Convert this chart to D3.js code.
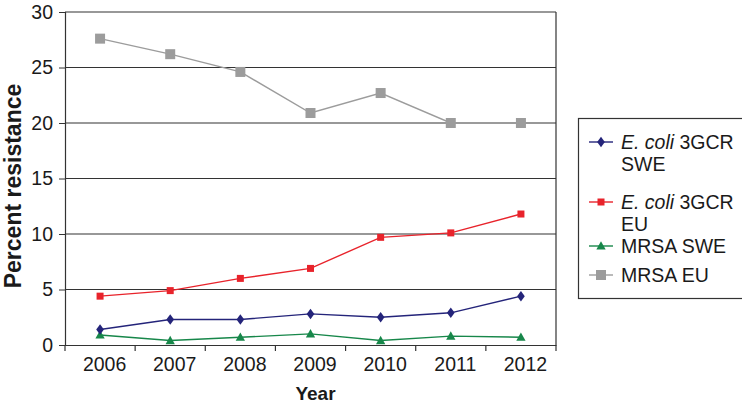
<!DOCTYPE html>
<html><head><meta charset="utf-8">
<script src="https://cdn.jsdelivr.net/npm/d3@7"></script>
<style>body{margin:0;background:#fff}svg{display:block;font-family:"Liberation Sans",Arial,sans-serif}</style>
</head><body><svg id="c" width="742" height="405"></svg>
<script>
const years = ["2006","2007","2008","2009","2010","2011","2012"];
const ecoliSWE = [1.4, 2.3, 2.3, 2.8, 2.5, 2.9, 4.4];
const ecoliEU = [4.4, 4.9, 6.0, 6.9, 9.7, 10.1, 11.8];
const mrsaSWE = [0.9, 0.4, 0.7, 1.0, 0.4, 0.8, 0.7];
const mrsaEU = [27.6, 26.2, 24.6, 20.9, 22.7, 20.0, 20.0];
const yTicks = [0, 5, 10, 15, 20, 25, 30];

const series = [
  {name:["E. coli", " 3GCR", "SWE"], values: ecoliSWE, color:"#24247a", marker:"diamond", size:7},
  {name:["E. coli", " 3GCR", "EU"], values: ecoliEU, color:"#e8232b", marker:"square", size:7},
  {name:["", "MRSA SWE", null], values: mrsaSWE, color:"#17874a", marker:"triangle", size:8},
  {name:["", "MRSA EU", null], values: mrsaEU, color:"#9c9c9c", marker:"square", size:10}
];

const svg = d3.select("#c");
const L = 65, R = 556, T = 12, B = 345;
const x = d3.scaleBand().domain(years).range([L, R]);
const y = d3.scaleLinear().domain([0, 30]).range([B, T]);

// gridlines
svg.append("g").selectAll("line").data(yTicks.filter(d => d > 0)).join("line")
  .attr("x1", L).attr("x2", R).attr("y1", d => y(d)).attr("y2", d => y(d))
  .attr("stroke", "#333").attr("stroke-width", 1.2);
// right border
svg.append("line").attr("x1", R).attr("x2", R).attr("y1", T).attr("y2", B)
  .attr("stroke", "#333").attr("stroke-width", 1.2);

// y axis
const yAxis = svg.append("g").attr("transform", `translate(${L},0)`)
  .call(d3.axisLeft(y).tickValues(yTicks).tickSize(6).tickPadding(6));
yAxis.select(".domain").attr("stroke", "#333").attr("stroke-width", 1.2);
yAxis.selectAll(".tick line").attr("stroke", "#333");
yAxis.selectAll("text").attr("font-size", 19.5).attr("fill", "#1a1a1a").attr("font-family", "Liberation Sans, Arial, sans-serif");

// x axis
const xAxis = svg.append("g").attr("transform", `translate(0,${B})`)
  .call(d3.axisBottom(x).tickSize(0).tickPadding(12));
xAxis.select(".domain").attr("stroke", "#333").attr("stroke-width", 1.2);
xAxis.selectAll("text").attr("font-size", 19.5).attr("dx", 4.5).attr("fill", "#1a1a1a").attr("font-family", "Liberation Sans, Arial, sans-serif");
// x tick marks at band boundaries
svg.append("g").selectAll("line").data(d3.range(years.length + 1)).join("line")
  .attr("x1", i => L + i * x.bandwidth()).attr("x2", i => L + i * x.bandwidth())
  .attr("y1", B).attr("y2", B + 6).attr("stroke", "#333").attr("stroke-width", 1.2);

// axis titles
svg.append("text").attr("x", (L + R) / 2 + 5).attr("y", 400).attr("text-anchor", "middle")
  .attr("font-size", 19).attr("font-weight", "bold").attr("fill", "#1a1a1a").text("Year");
svg.append("text").attr("transform", `translate(21,186) rotate(-90)`).attr("text-anchor", "middle")
  .attr("font-size", 23).attr("font-weight", "bold").attr("fill", "#1a1a1a").text("Percent resistance");

function drawMarker(g, type, cx, cy, s, color) {
  if (type === "diamond") {
    g.append("path").attr("d", `M${cx},${cy - s * 0.75}L${cx + s * 0.55},${cy}L${cx},${cy + s * 0.75}L${cx - s * 0.55},${cy}Z`).attr("fill", color);
  } else if (type === "square") {
    g.append("rect").attr("x", cx - s / 2).attr("y", cy - s / 2).attr("width", s).attr("height", s).attr("fill", color);
  } else {
    g.append("path").attr("d", `M${cx},${cy - s * 0.6}L${cx + s * 0.58},${cy + s * 0.45}L${cx - s * 0.58},${cy + s * 0.45}Z`).attr("fill", color);
  }
}

const line = d3.line().x((d, i) => x(years[i]) + x.bandwidth() / 2).y(d => y(d));
series.slice().reverse().forEach(s => {
  const g = svg.append("g");
  g.append("path").attr("d", line(s.values)).attr("fill", "none").attr("stroke", s.color).attr("stroke-width", 1.4);
  s.values.forEach((v, i) => drawMarker(g, s.marker, x(years[i]) + x.bandwidth() / 2, y(v), s.size, s.color));
});

// legend
const lg = svg.append("g");
lg.append("rect").attr("x", 578.5).attr("y", 118.5).attr("width", 180).attr("height", 180)
  .attr("fill", "#fff").attr("stroke", "#333").attr("stroke-width", 1.2);
const rows = [142, 202, 246, 275];
series.forEach((s, i) => {
  const cy = rows[i];
  lg.append("line").attr("x1", 589).attr("x2", 613).attr("y1", cy).attr("y2", cy).attr("stroke", s.color).attr("stroke-width", 1.4);
  drawMarker(lg, s.marker, 601, cy, s.size, s.color);
  const t = lg.append("text").attr("x", 621).attr("y", cy + 7).attr("font-size", 19.5).attr("fill", "#1a1a1a");
  if (s.name[0]) t.append("tspan").attr("font-style", "italic").text(s.name[0]);
  t.append("tspan").text(s.name[1]);
  if (s.name[2]) lg.append("text").attr("x", 621).attr("y", cy + 29).attr("font-size", 19.5).attr("fill", "#1a1a1a").text(s.name[2]);
});
</script></body></html>
